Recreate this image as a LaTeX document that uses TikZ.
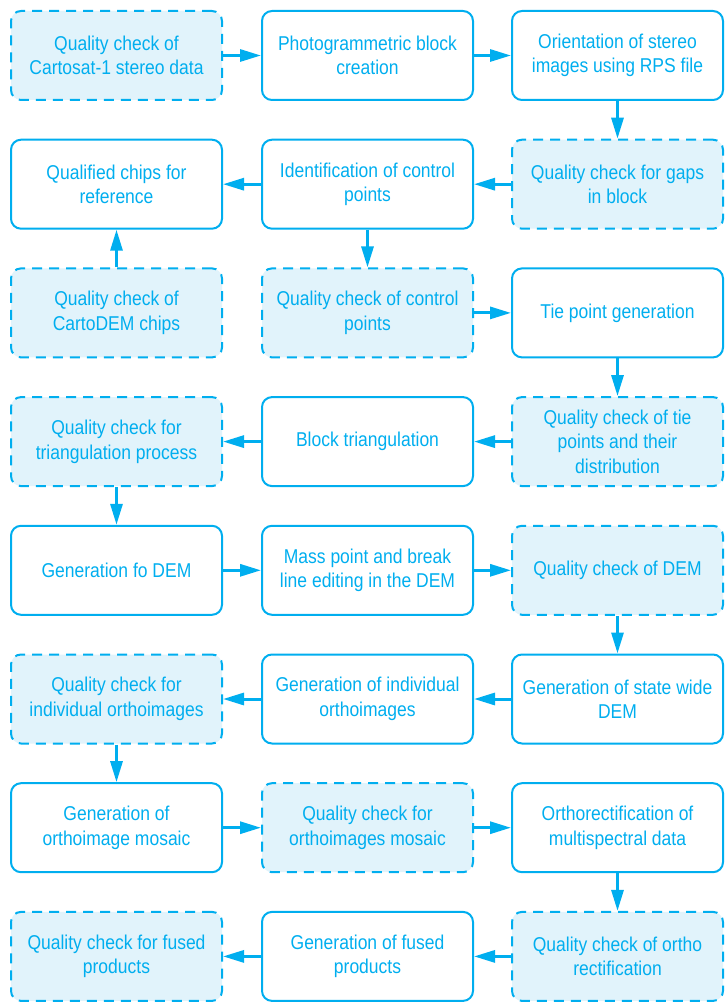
\documentclass[tikz,border=0pt]{standalone}
\usepackage{fontspec}
\setmainfont[FakeStretch=0.875]{Liberation Sans}
\usetikzlibrary{arrows.meta}
\definecolor{ink}{HTML}{00AEEF}
\definecolor{wash}{HTML}{E1F3FB}

\begin{document}
\begin{tikzpicture}[x=1pt,y=-1pt,>={Triangle[length=21pt,width=12pt]},
  font=\fontsize{20pt}{24.5pt}\selectfont,text=ink,
  stage/.style={draw=ink,line width=2pt,rounded corners=10pt,minimum width=211pt,minimum height=89pt,inner sep=0pt,align=center},
  check/.style={stage,fill=wash,dash pattern=on 10pt off 7pt},
  link/.style={->,draw=ink,line width=3pt}]
\useasboundingbox (0,0) rectangle (724,1003);
% row 1
\node[check] (qdata) at (116.5,55.5) {Quality check of\\Cartosat-1 stereo data};
\node[stage] (block) at (367.5,55.5) {Photogrammetric block\\creation};
\node[stage] (orient) at (617.5,55.5) {Orientation of stereo\\images using RPS file};
% row 2
\node[stage] (chips) at (116.5,184.2) {Qualified chips for\\reference};
\node[stage] (ident) at (367.5,184.2) {Identification of control\\points};
\node[check] (qgaps) at (617.5,184.2) {Quality check for gaps\\in block};
% row 3
\node[check] (qchips) at (116.5,312.9) {Quality check of\\CartoDEM chips};
\node[check] (qctrl) at (367.5,312.9) {Quality check of control\\points};
\node[stage] (tie) at (617.5,312.9) {Tie point generation};
% row 4
\node[check] (qtri) at (116.5,441.6) {Quality check for\\triangulation process};
\node[stage] (tri) at (367.5,441.6) {Block triangulation};
\node[check] (qtie) at (617.5,441.6) {Quality check of tie\\points and their\\distribution};
% row 5
\node[stage] (dem) at (116.5,570.3) {Generation fo DEM};
\node[stage] (mass) at (367.5,570.3) {Mass point and break\\line editing in the DEM};
\node[check] (qdem) at (617.5,570.3) {Quality check of DEM};
% row 6
\node[check] (qortho) at (116.5,699.0) {Quality check for\\individual orthoimages};
\node[stage] (ortho) at (367.5,699.0) {Generation of individual\\orthoimages};
\node[stage] (state) at (617.5,699.0) {Generation of state wide\\DEM};
% row 7
\node[stage] (mosaic) at (116.5,827.7) {Generation of\\orthoimage mosaic};
\node[check] (qmosaic) at (367.5,827.7) {Quality check for\\orthoimages mosaic};
\node[stage] (multi) at (617.5,827.7) {Orthorectification of\\multispectral data};
% row 8
\node[check] (qfused) at (116.5,956.4) {Quality check for fused\\products};
\node[stage] (fused) at (367.5,956.4) {Generation of fused\\products};
\node[check] (qrect) at (617.5,956.4) {Quality check of ortho\\rectification};
% flow
\draw[link] (qdata)--(block);
\draw[link] (block)--(orient);
\draw[link] (orient)--(qgaps);
\draw[link] (qgaps)--(ident);
\draw[link] (ident)--(chips);
\draw[link] (qchips)--(chips);
\draw[link] (ident)--(qctrl);
\draw[link] (qctrl)--(tie);
\draw[link] (tie)--(qtie);
\draw[link] (qtie)--(tri);
\draw[link] (tri)--(qtri);
\draw[link] (qtri)--(dem);
\draw[link] (dem)--(mass);
\draw[link] (mass)--(qdem);
\draw[link] (qdem)--(state);
\draw[link] (state)--(ortho);
\draw[link] (ortho)--(qortho);
\draw[link] (qortho)--(mosaic);
\draw[link] (mosaic)--(qmosaic);
\draw[link] (qmosaic)--(multi);
\draw[link] (multi)--(qrect);
\draw[link] (qrect)--(fused);
\draw[link] (fused)--(qfused);
\end{tikzpicture}
\end{document}
